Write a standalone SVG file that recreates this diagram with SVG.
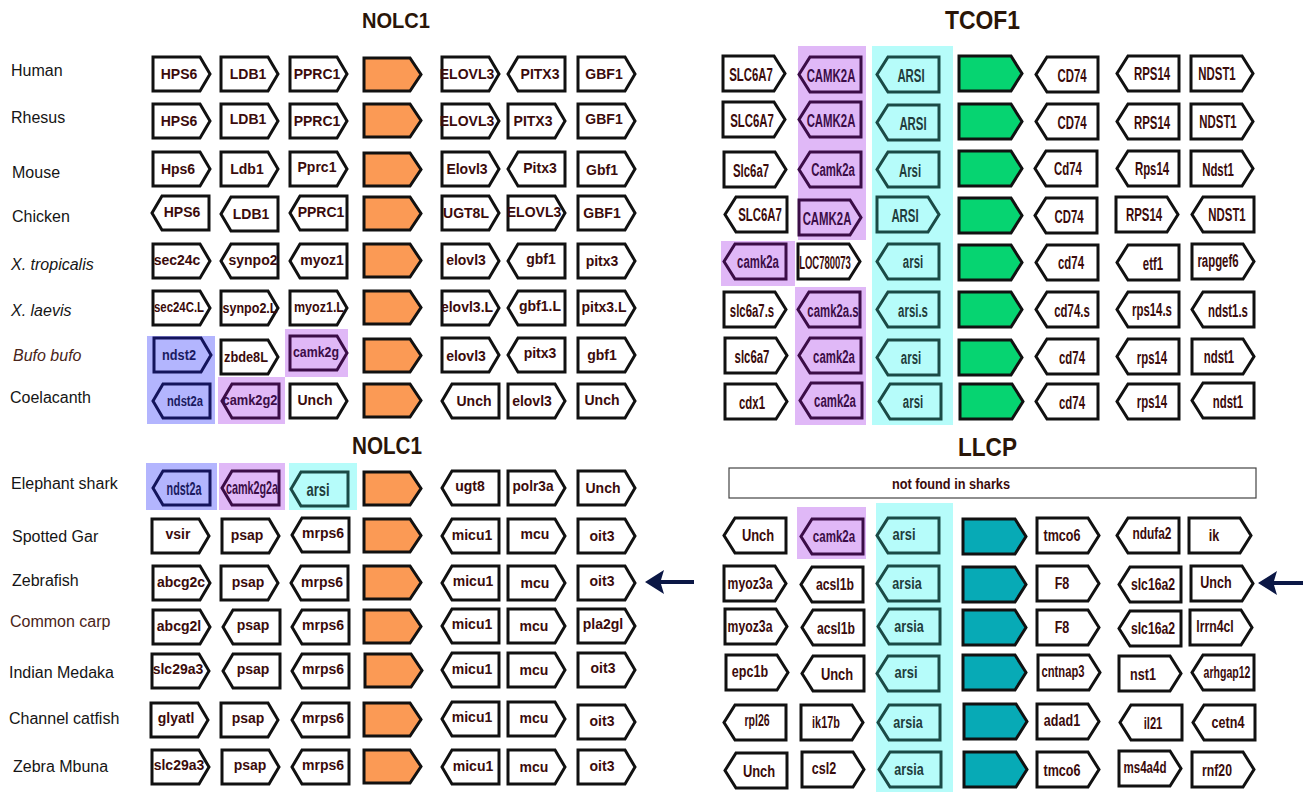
<svg xmlns="http://www.w3.org/2000/svg" xmlns:xlink="http://www.w3.org/1999/xlink" width="1308" height="792" viewBox="0 0 1308 792">
<defs>
<style>
.w{fill:#fff;stroke:#111;stroke-width:3}
.p{fill:none;stroke:#3b0d47;stroke-width:3}
.b{fill:none;stroke:#14145c;stroke-width:3}
.c{fill:none;stroke:#1b4a46;stroke-width:3}
.or{fill:#fb9a55;stroke:#111;stroke-width:3}
.gr{fill:#06d471;stroke:#111;stroke-width:3}
.te{fill:#07aab6;stroke:#111;stroke-width:3}
.t{font-family:"Liberation Sans",Arial,sans-serif;font-weight:bold;font-size:14px;fill:#3b0b0b;text-anchor:middle}
.tn{font-size:19px}
.tb{font-size:17px}
.ts{font-size:18px}
.tp{fill:#3b0d47}
.tc{fill:#213c3c}
.tbl{fill:#1a1a60}
.sp{font-family:"Liberation Sans",Arial,sans-serif;font-size:16px;fill:#151515}
.it{font-style:italic}
.br{fill:#4a2418}
.ti{font-family:"Liberation Sans",Arial,sans-serif;font-weight:bold;fill:#2a1608}
.bgp{fill:#e0b8f7}
.bgb{fill:#b3b5fe}
.bgc{fill:#b6fcfa}
</style>
<path id="r" d="M0,0H47L57,17L47,34H0Z"/>
<path id="l" d="M10,0H57V34H10L0,17Z"/>
<path id="o" d="M0,0H46L57,16.5L46,33H0Z"/>
<path id="R" d="M0,0H51L62,17.5L51,35H0Z"/>
<path id="L" d="M11,0H62V35H11L0,17.5Z"/>
<path id="G" d="M0,0H52L63,17.5L52,35H0Z"/>
</defs>
<rect width="1308" height="792" fill="#fff"/>

<!-- section titles -->
<g id="titles">
<text class="ti" x="362" y="28" font-size="22" textLength="68" lengthAdjust="spacingAndGlyphs">NOLC1</text>
<text class="ti" x="945" y="29" font-size="26" textLength="75" lengthAdjust="spacingAndGlyphs">TCOF1</text>
<text class="ti" x="352" y="454" font-size="24" textLength="70" lengthAdjust="spacingAndGlyphs">NOLC1</text>
<text class="ti" x="958" y="456" font-size="26" textLength="59" lengthAdjust="spacingAndGlyphs">LLCP</text>
</g>

<!-- species names -->
<g id="species">
<text class="sp" x="11" y="76">Human</text>
<text class="sp" x="11" y="123">Rhesus</text>
<text class="sp" x="12" y="178">Mouse</text>
<text class="sp" x="12" y="222">Chicken</text>
<text class="sp it" x="11" y="270">X. tropicalis</text>
<text class="sp it" x="11" y="316">X. laevis</text>
<text class="sp it br" x="13" y="361">Bufo bufo</text>
<text class="sp" x="10" y="403">Coelacanth</text>
<text class="sp" x="11" y="489">Elephant shark</text>
<text class="sp" x="12" y="542">Spotted Gar</text>
<text class="sp" x="12" y="586">Zebrafish</text>
<text class="sp br" x="10" y="627">Common carp</text>
<text class="sp" x="9" y="678">Indian Medaka</text>
<text class="sp" x="9" y="724">Channel catfish</text>
<text class="sp" x="13" y="772">Zebra Mbuna</text>
</g>

<!-- shared-gene highlight bands -->
<g id="highlights">
<rect class="bgb" x="147" y="336" width="68" height="88"/>
<rect class="bgp" x="285" y="329" width="63" height="48"/>
<rect class="bgp" x="218" y="377" width="67" height="47"/>
<rect class="bgp" x="798" y="46" width="68" height="194"/>
<rect class="bgp" x="721" y="241" width="74" height="45"/>
<rect class="bgp" x="795" y="287" width="71" height="138"/>
<rect class="bgc" x="872" y="46" width="81" height="379"/>
<rect class="bgb" x="146" y="463" width="71" height="47"/>
<rect class="bgp" x="219" y="463" width="66" height="47"/>
<rect class="bgc" x="289" y="463" width="68" height="47"/>
<rect class="bgp" x="797" y="507" width="69" height="52"/>
<rect class="bgc" x="876" y="503" width="77" height="289"/>
</g>

<!-- NOLC1 locus, tetrapods and coelacanth -->
<g id="nolc1-top">
<g id="h-hps6" transform="translate(153,57)"><use href="#r" class="w"/><text class="t" x="26" y="22">HPS6</text></g>
<g id="h-ldb1" transform="translate(221,57)"><use href="#r" class="w"/><text class="t" x="27" y="22">LDB1</text></g>
<g id="h-pprc1" transform="translate(290,57)"><use href="#r" class="w"/><text class="t" x="27" y="22">PPRC1</text></g>
<g id="h-nolc1" transform="translate(364,58)"><use href="#o" class="or"/></g>
<g id="h-elovl3" transform="translate(442,57)"><use href="#r" class="w"/><text class="t" x="25" y="22">ELOVL3</text></g>
<g id="h-pitx3" transform="translate(508,57)"><use href="#l" class="w"/><text class="t" x="32" y="22">PITX3</text></g>
<g id="h-gbf1" transform="translate(578,57)"><use href="#r" class="w"/><text class="t" x="26" y="22">GBF1</text></g>

<g id="rh-hps6" transform="translate(153,104)"><use href="#r" class="w"/><text class="t" x="26" y="22">HPS6</text></g>
<g id="rh-ldb1" transform="translate(221,104)"><use href="#r" class="w"/><text class="t" x="27" y="20">LDB1</text></g>
<g id="rh-pprc1" transform="translate(290,104)"><use href="#r" class="w"/><text class="t" x="27" y="22">PPRC1</text></g>
<g id="rh-nolc1" transform="translate(364,104)"><use href="#o" class="or"/></g>
<g id="rh-elovl3" transform="translate(442,104)"><use href="#r" class="w"/><text class="t" x="25" y="22">ELOVL3</text></g>
<g id="rh-pitx3" transform="translate(508,104)"><use href="#r" class="w"/><text class="t" x="25" y="22">PITX3</text></g>
<g id="rh-gbf1" transform="translate(578,104)"><use href="#r" class="w"/><text class="t" x="26" y="20">GBF1</text></g>

<g id="m-hps6" transform="translate(153,152)"><use href="#r" class="w"/><text class="t" x="25" y="22">Hps6</text></g>
<g id="m-ldb1" transform="translate(221,152)"><use href="#r" class="w"/><text class="t" x="26" y="22">Ldb1</text></g>
<g id="m-pprc1" transform="translate(290,152)"><use href="#r" class="w"/><text class="t" x="27" y="20">Pprc1</text></g>
<g id="m-nolc1" transform="translate(364,153)"><use href="#o" class="or"/></g>
<g id="m-elovl3" transform="translate(442,152)"><use href="#r" class="w"/><text class="t" x="25" y="22">Elovl3</text></g>
<g id="m-pitx3" transform="translate(508,152)"><use href="#l" class="w"/><text class="t" x="32" y="21">Pitx3</text></g>
<g id="m-gbf1" transform="translate(578,152)"><use href="#r" class="w"/><text class="t" x="24" y="23">Gbf1</text></g>

<g id="c-hps6" transform="translate(152,196)"><use href="#l" class="w"/><text class="t" x="30" y="21">HPS6</text></g>
<g id="c-ldb1" transform="translate(221,197)"><use href="#l" class="w"/><text class="t" x="30" y="22">LDB1</text></g>
<g id="c-pprc1" transform="translate(290,196)"><use href="#l" class="w"/><text class="t" x="31" y="21">PPRC1</text></g>
<g id="c-nolc1" transform="translate(364,197)"><use href="#o" class="or"/></g>
<g id="c-ugt8l" transform="translate(442,196)"><use href="#r" class="w"/><text class="t" x="24" y="22">UGT8L</text></g>
<g id="c-elovl3" transform="translate(508,196)"><use href="#r" class="w"/><text class="t" x="26" y="21">ELOVL3</text></g>
<g id="c-gbf1" transform="translate(578,196)"><use href="#r" class="w"/><text class="t" x="24" y="22">GBF1</text></g>

<g id="xt-sec24c" transform="translate(153,244)"><use href="#r" class="w"/><text class="t" x="24" y="21">sec24c</text></g>
<g id="xt-synpo2" transform="translate(221,244)"><use href="#l" class="w"/><text class="t" x="32" y="21">synpo2</text></g>
<g id="xt-myoz1" transform="translate(290,244)"><use href="#l" class="w"/><text class="t" x="32" y="21">myoz1</text></g>
<g id="xt-nolc1" transform="translate(364,244)"><use href="#o" class="or"/></g>
<g id="xt-elovl3" transform="translate(442,244)"><use href="#r" class="w"/><text class="t" x="24" y="21">elovl3</text></g>
<g id="xt-gbf1" transform="translate(508,244)"><use href="#l" class="w"/><text class="t" x="33" y="20">gbf1</text></g>
<g id="xt-pitx3" transform="translate(578,244)"><use href="#r" class="w"/><text class="t" x="24" y="22">pitx3</text></g>

<g id="xl-sec24cl" transform="translate(153,291)"><use href="#r" class="w"/><text class="t" x="26" y="21" textLength="50" lengthAdjust="spacingAndGlyphs">sec24C.L</text></g>
<g id="xl-synpo2l" transform="translate(221,291)"><use href="#r" class="w"/><text class="t" x="29" y="22" textLength="55" lengthAdjust="spacingAndGlyphs">synpo2.L</text></g>
<g id="xl-myoz1l" transform="translate(290,291)"><use href="#r" class="w"/><text class="t" x="29" y="21" textLength="50" lengthAdjust="spacingAndGlyphs">myoz1.L</text></g>
<g id="xl-nolc1" transform="translate(364,291)"><use href="#o" class="or"/></g>
<g id="xl-elovl3l" transform="translate(442,291)"><use href="#r" class="w"/><text class="t" x="25" y="21">elovl3.L</text></g>
<g id="xl-gbf1l" transform="translate(508,291)"><use href="#l" class="w"/><text class="t" x="32" y="20">gbf1.L</text></g>
<g id="xl-pitx3l" transform="translate(578,291)"><use href="#r" class="w"/><text class="t" x="26" y="21">pitx3.L</text></g>

<g id="bb-ndst2" transform="translate(154,338)"><use href="#r" class="b"/><text class="t tbl" x="25" y="22" textLength="34" lengthAdjust="spacingAndGlyphs">ndst2</text></g>
<g id="bb-zbde8l" transform="translate(221,340)"><use href="#r" class="w"/><text class="t" x="25" y="22" textLength="44" lengthAdjust="spacingAndGlyphs">zbde8L</text></g>
<g id="bb-camk2g" transform="translate(290,336)"><use href="#r" class="p"/><text class="t tp" x="26" y="21" textLength="46" lengthAdjust="spacingAndGlyphs">camk2g</text></g>
<g id="bb-nolc1" transform="translate(364,339)"><use href="#o" class="or"/></g>
<g id="bb-elovl3" transform="translate(442,338)"><use href="#r" class="w"/><text class="t" x="24" y="23">elovl3</text></g>
<g id="bb-pitx3" transform="translate(508,338)"><use href="#l" class="w"/><text class="t" x="32" y="20">pitx3</text></g>
<g id="bb-gbf1" transform="translate(578,338)"><use href="#r" class="w"/><text class="t" x="24" y="22">gbf1</text></g>

<g id="co-ndst2a" transform="translate(153,384)"><use href="#l" class="b"/><text class="t tbl" x="32" y="22" textLength="36" lengthAdjust="spacingAndGlyphs">ndst2a</text></g>
<g id="co-camk2g2" transform="translate(222,384)"><use href="#l" class="p"/><text class="t tp" x="28" y="21" textLength="55" lengthAdjust="spacingAndGlyphs">camk2g2</text></g>
<g id="co-unch1" transform="translate(290,384)"><use href="#r" class="w"/><text class="t" x="25" y="21">Unch</text></g>
<g id="co-nolc1" transform="translate(364,384)"><use href="#o" class="or"/></g>
<g id="co-unch2" transform="translate(442,384)"><use href="#l" class="w"/><text class="t" x="32" y="22">Unch</text></g>
<g id="co-elovl3" transform="translate(508,384)"><use href="#r" class="w"/><text class="t" x="24" y="22">elovl3</text></g>
<g id="co-unch3" transform="translate(578,384)"><use href="#r" class="w"/><text class="t" x="24" y="21">Unch</text></g>
</g>

<!-- TCOF1 locus -->
<g id="tcof1">
<g id="th-slc6a7" transform="translate(723,56)"><use href="#R" class="w"/><text class="t tn" transform="translate(28 24.5) scale(.6 1)">SLC6A7</text></g>
<g id="th-camk2a" transform="translate(799,57)"><use href="#L" class="p"/><text class="t tn tp" transform="translate(32 24.5) scale(.6 1)">CAMK2A</text></g>
<g id="th-arsi" transform="translate(877,57)"><use href="#L" class="c"/><text class="t tn tc" transform="translate(34 24.5) scale(.6 1)">ARSI</text></g>
<g id="th-tcof1" transform="translate(959,56)"><use href="#G" class="gr"/></g>
<g id="th-cd74" transform="translate(1036,57)"><use href="#L" class="w"/><text class="t tn" transform="translate(36 24.5) scale(.6 1)">CD74</text></g>
<g id="th-rps14" transform="translate(1117,56)"><use href="#L" class="w"/><text class="t tn" transform="translate(35 23.5) scale(.6 1)">RPS14</text></g>
<g id="th-ndst1" transform="translate(1191,56)"><use href="#R" class="w"/><text class="t tn" transform="translate(26 23.5) scale(.6 1)">NDST1</text></g>

<g id="tr-slc6a7" transform="translate(723,102)"><use href="#R" class="w"/><text class="t tn" transform="translate(29 25) scale(.6 1)">SLC6A7</text></g>
<g id="tr-camk2a" transform="translate(799,102)"><use href="#L" class="p"/><text class="t tn tp" transform="translate(32 25) scale(.6 1)">CAMK2A</text></g>
<g id="tr-arsi" transform="translate(877,105)"><use href="#L" class="c"/><text class="t tn tc" transform="translate(36 25) scale(.6 1)">ARSI</text></g>
<g id="tr-tcof1" transform="translate(959,104)"><use href="#G" class="gr"/></g>
<g id="tr-cd74" transform="translate(1036,104)"><use href="#L" class="w"/><text class="t tn" transform="translate(36 24.5) scale(.6 1)">CD74</text></g>
<g id="tr-rps14" transform="translate(1117,104)"><use href="#L" class="w"/><text class="t tn" transform="translate(35 24.5) scale(.6 1)">RPS14</text></g>
<g id="tr-ndst1" transform="translate(1191,104)"><use href="#R" class="w"/><text class="t tn" transform="translate(27 23.5) scale(.6 1)">NDST1</text></g>

<g id="tm-slc6a7" transform="translate(724,152)"><use href="#R" class="w"/><text class="t tn" transform="translate(27 25) scale(.6 1)">Slc6a7</text></g>
<g id="tm-camk2a" transform="translate(799,152)"><use href="#L" class="p"/><text class="t tn tp" transform="translate(34 24) scale(.6 1)">Camk2a</text></g>
<g id="tm-arsi" transform="translate(877,152)"><use href="#L" class="c"/><text class="t tn tc" transform="translate(33 25) scale(.6 1)">Arsi</text></g>
<g id="tm-tcof1" transform="translate(959,151)"><use href="#G" class="gr"/></g>
<g id="tm-cd74" transform="translate(1035,151)"><use href="#L" class="w"/><text class="t tn" transform="translate(33 23.5) scale(.6 1)">Cd74</text></g>
<g id="tm-rps14" transform="translate(1117,151)"><use href="#L" class="w"/><text class="t tn" transform="translate(35 24) scale(.6 1)">Rps14</text></g>
<g id="tm-ndst1" transform="translate(1191,151)"><use href="#R" class="w"/><text class="t tn" transform="translate(27 24.5) scale(.6 1)">Ndst1</text></g>

<g id="tc-slc6a7" transform="translate(725,197)"><use href="#L" class="w"/><text class="t tn" transform="translate(35 24) scale(.6 1)">SLC6A7</text></g>
<g id="tc-camk2a" transform="translate(799,200)"><use href="#R" class="p"/><text class="t tn tp" transform="translate(28 24.5) scale(.6 1)">CAMK2A</text></g>
<g id="tc-arsi" transform="translate(877,197)"><use href="#R" class="c"/><text class="t tn tc" transform="translate(28 24.5) scale(.6 1)">ARSI</text></g>
<g id="tc-tcof1" transform="translate(959,198)"><use href="#G" class="gr"/></g>
<g id="tc-cd74" transform="translate(1035,198)"><use href="#L" class="w"/><text class="t tn" transform="translate(34 24.5) scale(.6 1)">CD74</text></g>
<g id="tc-rps14" transform="translate(1116,197)"><use href="#R" class="w"/><text class="t tn" transform="translate(28 23.5) scale(.6 1)">RPS14</text></g>
<g id="tc-ndst1" transform="translate(1192,197)"><use href="#L" class="w"/><text class="t tn" transform="translate(35 24) scale(.6 1)">NDST1</text></g>

<g id="txt-camk2a" transform="translate(724,244)"><use href="#L" class="p"/><text class="t tn tp" transform="translate(34 23.5) scale(.6 1)">camk2a</text></g>
<g id="txt-loc780073" transform="translate(798,244)"><use href="#R" class="w"/><text class="t tn" transform="translate(27 24.5) scale(.5 1)">LOC780073</text></g>
<g id="txt-arsi" transform="translate(877,244)"><use href="#L" class="c"/><text class="t tn tc" transform="translate(36 24) scale(.6 1)">arsi</text></g>
<g id="txt-tcof1" transform="translate(959,245)"><use href="#G" class="gr"/></g>
<g id="txt-cd74" transform="translate(1036,245)"><use href="#L" class="w"/><text class="t tn" transform="translate(35 23.5) scale(.6 1)">cd74</text></g>
<g id="txt-etf1" transform="translate(1117,245)"><use href="#L" class="w"/><text class="t tn" transform="translate(36 24.5) scale(.6 1)">etf1</text></g>
<g id="txt-rapgef6" transform="translate(1192,244)"><use href="#R" class="w"/><text class="t tn" transform="translate(26 23) scale(.6 1)">rapgef6</text></g>

<g id="txl-slc6a7s" transform="translate(724,292)"><use href="#R" class="w"/><text class="t tn" transform="translate(28 24.5) scale(.6 1)">slc6a7.s</text></g>
<g id="txl-camk2as" transform="translate(798,292)"><use href="#L" class="p"/><text class="t tn tp" transform="translate(35 24.5) scale(.6 1)">camk2a.s</text></g>
<g id="txl-arsis" transform="translate(877,292)"><use href="#L" class="c"/><text class="t tn tc" transform="translate(36 24.5) scale(.6 1)">arsi.s</text></g>
<g id="txl-tcof1" transform="translate(959,292)"><use href="#G" class="gr"/></g>
<g id="txl-cd74s" transform="translate(1036,292)"><use href="#L" class="w"/><text class="t tn" transform="translate(36 24.5) scale(.6 1)">cd74.s</text></g>
<g id="txl-rps14s" transform="translate(1117,292)"><use href="#L" class="w"/><text class="t tn" transform="translate(35 23.5) scale(.6 1)">rps14.s</text></g>
<g id="txl-ndst1s" transform="translate(1192,292)"><use href="#L" class="w"/><text class="t tn" transform="translate(36 24.5) scale(.6 1)">ndst1.s</text></g>

<g id="tbb-slc6a7" transform="translate(725,338)"><use href="#R" class="w"/><text class="t tn" transform="translate(27 24.5) scale(.6 1)">slc6a7</text></g>
<g id="tbb-camk2a" transform="translate(799,338)"><use href="#L" class="p"/><text class="t tn tp" transform="translate(35 24.5) scale(.6 1)">camk2a</text></g>
<g id="tbb-arsi" transform="translate(877,340)"><use href="#L" class="c"/><text class="t tn tc" transform="translate(34 24) scale(.6 1)">arsi</text></g>
<g id="tbb-tcof1" transform="translate(959,340)"><use href="#G" class="gr"/></g>
<g id="tbb-cd74" transform="translate(1036,339)"><use href="#L" class="w"/><text class="t tn" transform="translate(36 24.5) scale(.6 1)">cd74</text></g>
<g id="tbb-rps14" transform="translate(1117,339)"><use href="#L" class="w"/><text class="t tn" transform="translate(35 25) scale(.6 1)">rps14</text></g>
<g id="tbb-ndst1" transform="translate(1192,339)"><use href="#R" class="w"/><text class="t tn" transform="translate(27 23.5) scale(.6 1)">ndst1</text></g>

<g id="tco-cdx1" transform="translate(725,384)"><use href="#R" class="w"/><text class="t tn" transform="translate(27 24.5) scale(.6 1)">cdx1</text></g>
<g id="tco-camk2a" transform="translate(800,383)"><use href="#L" class="p"/><text class="t tn tp" transform="translate(35 23.5) scale(.6 1)">camk2a</text></g>
<g id="tco-arsi" transform="translate(879,384)"><use href="#L" class="c"/><text class="t tn tc" transform="translate(34 24) scale(.6 1)">arsi</text></g>
<g id="tco-tcof1" transform="translate(960,384)"><use href="#G" class="gr"/></g>
<g id="tco-cd74" transform="translate(1036,384)"><use href="#L" class="w"/><text class="t tn" transform="translate(36 24.5) scale(.6 1)">cd74</text></g>
<g id="tco-rps14" transform="translate(1117,384)"><use href="#L" class="w"/><text class="t tn" transform="translate(35 24) scale(.6 1)">rps14</text></g>
<g id="tco-ndst1" transform="translate(1192,383)"><use href="#L" class="w"/><text class="t tn" transform="translate(36 24.5) scale(.6 1)">ndst1</text></g>
</g>

<!-- NOLC1 locus, fishes -->
<g id="nolc1-fish">
<g id="es-ndst2a" transform="translate(153,471)"><use href="#l" class="b"/><text class="t ts tbl" transform="translate(31 23.5) scale(.6 1)">ndst2a</text></g>
<g id="es-camk2g2a" transform="translate(222,471)"><use href="#l" class="p"/><text class="t ts tp" transform="translate(30 23) scale(.6 1)">camk2g2a</text></g>
<g id="es-arsi" transform="translate(291,472)"><use href="#l" class="c"/><text class="t ts tc" transform="translate(27 23.5) scale(.72 1)">arsi</text></g>
<g id="es-nolc1" transform="translate(364,472)"><use href="#o" class="or"/></g>
<g id="es-ugt8" transform="translate(442,471)"><use href="#l" class="w"/><text class="t" x="28" y="20">ugt8</text></g>
<g id="es-polr3a" transform="translate(508,471)"><use href="#r" class="w"/><text class="t" x="25" y="20" textLength="41" lengthAdjust="spacingAndGlyphs">polr3a</text></g>
<g id="es-unch" transform="translate(578,471)"><use href="#r" class="w"/><text class="t" x="25" y="22">Unch</text></g>

<g id="sg-vsir" transform="translate(152,519)"><use href="#r" class="w"/><text class="t" x="26" y="20">vsir</text></g>
<g id="sg-psap" transform="translate(222,519)"><use href="#r" class="w"/><text class="t" x="25" y="21">psap</text></g>
<g id="sg-mrps6" transform="translate(292,518)"><use href="#l" class="w"/><text class="t" x="31" y="20">mrps6</text></g>
<g id="sg-nolc1" transform="translate(364,519)"><use href="#o" class="or"/></g>
<g id="sg-micu1" transform="translate(442,519)"><use href="#l" class="w"/><text class="t" x="30" y="21">micu1</text></g>
<g id="sg-mcu" transform="translate(508,519)"><use href="#r" class="w"/><text class="t" x="27" y="20">mcu</text></g>
<g id="sg-oit3" transform="translate(578,519)"><use href="#r" class="w"/><text class="t" x="24" y="22">oit3</text></g>

<g id="zf-abcg2c" transform="translate(153,566)"><use href="#r" class="w"/><text class="t" x="28" y="21">abcg2c</text></g>
<g id="zf-psap" transform="translate(221,566)"><use href="#r" class="w"/><text class="t" x="27" y="21">psap</text></g>
<g id="zf-mrps6" transform="translate(291,566)"><use href="#l" class="w"/><text class="t" x="31" y="21">mrps6</text></g>
<g id="zf-nolc1" transform="translate(364,566)"><use href="#o" class="or"/></g>
<g id="zf-micu1" transform="translate(442,566)"><use href="#l" class="w"/><text class="t" x="31" y="20">micu1</text></g>
<g id="zf-mcu" transform="translate(508,566)"><use href="#r" class="w"/><text class="t" x="27" y="22">mcu</text></g>
<g id="zf-oit3" transform="translate(578,566)"><use href="#r" class="w"/><text class="t" x="24" y="20">oit3</text></g>

<g id="cc-abcg2l" transform="translate(153,610)"><use href="#r" class="w"/><text class="t" x="26" y="21">abcg2l</text></g>
<g id="cc-psap" transform="translate(223,610)"><use href="#l" class="w"/><text class="t" x="30" y="20">psap</text></g>
<g id="cc-mrps6" transform="translate(292,610)"><use href="#l" class="w"/><text class="t" x="31" y="20">mrps6</text></g>
<g id="cc-nolc1" transform="translate(364,610)"><use href="#o" class="or"/></g>
<g id="cc-micu1" transform="translate(442,609)"><use href="#l" class="w"/><text class="t" x="30" y="20">micu1</text></g>
<g id="cc-mcu" transform="translate(508,609)"><use href="#r" class="w"/><text class="t" x="26" y="22">mcu</text></g>
<g id="cc-pla2gl" transform="translate(578,609)"><use href="#r" class="w"/><text class="t" x="25" y="20">pla2gl</text></g>

<g id="im-slc29a3" transform="translate(152,654)"><use href="#r" class="w"/><text class="t" x="26" y="20">slc29a3</text></g>
<g id="im-psap" transform="translate(223,654)"><use href="#l" class="w"/><text class="t" x="30" y="20">psap</text></g>
<g id="im-mrps6" transform="translate(292,654)"><use href="#l" class="w"/><text class="t" x="31" y="20">mrps6</text></g>
<g id="im-nolc1" transform="translate(365,654)"><use href="#o" class="or"/></g>
<g id="im-micu1" transform="translate(442,653)"><use href="#l" class="w"/><text class="t" x="30" y="21">micu1</text></g>
<g id="im-mcu" transform="translate(508,653)"><use href="#r" class="w"/><text class="t" x="26" y="22">mcu</text></g>
<g id="im-oit3" transform="translate(578,653)"><use href="#r" class="w"/><text class="t" x="25" y="20">oit3</text></g>

<g id="ch-glyatl" transform="translate(151,703)"><use href="#r" class="w"/><text class="t" x="25" y="20">glyatl</text></g>
<g id="ch-psap" transform="translate(221,703)"><use href="#r" class="w"/><text class="t" x="27" y="20">psap</text></g>
<g id="ch-mrps6" transform="translate(292,703)"><use href="#l" class="w"/><text class="t" x="31" y="20">mrps6</text></g>
<g id="ch-nolc1" transform="translate(364,703)"><use href="#o" class="or"/></g>
<g id="ch-micu1" transform="translate(442,702)"><use href="#l" class="w"/><text class="t" x="30" y="20">micu1</text></g>
<g id="ch-mcu" transform="translate(508,702)"><use href="#r" class="w"/><text class="t" x="26" y="21">mcu</text></g>
<g id="ch-oit3" transform="translate(578,705)"><use href="#r" class="w"/><text class="t" x="24" y="21">oit3</text></g>

<g id="zm-slc29a3" transform="translate(152,750)"><use href="#r" class="w"/><text class="t" x="27" y="20">slc29a3</text></g>
<g id="zm-psap" transform="translate(222,750)"><use href="#r" class="w"/><text class="t" x="28" y="20">psap</text></g>
<g id="zm-mrps6" transform="translate(292,750)"><use href="#l" class="w"/><text class="t" x="31" y="20">mrps6</text></g>
<g id="zm-nolc1" transform="translate(364,750)"><use href="#o" class="or"/></g>
<g id="zm-micu1" transform="translate(442,750)"><use href="#l" class="w"/><text class="t" x="31" y="21">micu1</text></g>
<g id="zm-mcu" transform="translate(508,750)"><use href="#r" class="w"/><text class="t" x="26" y="22">mcu</text></g>
<g id="zm-oit3" transform="translate(578,750)"><use href="#r" class="w"/><text class="t" x="24" y="21">oit3</text></g>
</g>

<!-- LLCP locus -->
<g id="llcp">
<g id="llcp-note"><rect x="729" y="468" width="527" height="30" fill="#fff" stroke="#444" stroke-width="1.2"/><text class="t" x="951" y="489" style="font-size:14px" textLength="118" lengthAdjust="spacingAndGlyphs">not found in sharks</text></g>

<g id="l1-unch" transform="translate(724,518)"><use href="#L" class="w"/><text class="t tb" transform="translate(34 23) scale(.76 1)">Unch</text></g>
<g id="l1-camk2a" transform="translate(801,519)"><use href="#L" class="p"/><text class="t tb tp" transform="translate(33 22.5) scale(.68 1)">camk2a</text></g>
<g id="l1-arsi" transform="translate(877,518)"><use href="#L" class="c"/><text class="t tb tc" transform="translate(27 22) scale(.76 1)">arsi</text></g>
<g id="l1-llcp" transform="translate(963,519)"><use href="#G" class="te"/></g>
<g id="l1-tmco6" transform="translate(1037,518)"><use href="#R" class="w"/><text class="t tb" transform="translate(25 23) scale(.74 1)">tmco6</text></g>
<g id="l1-ndufa2" transform="translate(1117,518)"><use href="#L" class="w"/><text class="t tb" transform="translate(35 21) scale(.7 1)">ndufa2</text></g>
<g id="l1-ik" transform="translate(1189,518)"><use href="#R" class="w"/><text class="t tb" transform="translate(25 23) scale(.74 1)">ik</text></g>

<g id="l2-myoz3a" transform="translate(724,566)"><use href="#R" class="w"/><text class="t tb" transform="translate(26 23) scale(.72 1)">myoz3a</text></g>
<g id="l2-acsl1b" transform="translate(801,567)"><use href="#L" class="w"/><text class="t tb" transform="translate(34 23) scale(.72 1)">acsl1b</text></g>
<g id="l2-arsia" transform="translate(877,566)"><use href="#L" class="c"/><text class="t tb tc" transform="translate(30 23) scale(.74 1)">arsia</text></g>
<g id="l2-llcp" transform="translate(963,567)"><use href="#G" class="te"/></g>
<g id="l2-f8" transform="translate(1037,566)"><use href="#R" class="w"/><text class="t tb" transform="translate(25 23) scale(.74 1)">F8</text></g>
<g id="l2-slc16a2" transform="translate(1119,567)"><use href="#L" class="w"/><text class="t tb" transform="translate(34 23) scale(.72 1)">slc16a2</text></g>
<g id="l2-unch" transform="translate(1191,566)"><use href="#R" class="w"/><text class="t tb" transform="translate(25 22) scale(.74 1)">Unch</text></g>

<g id="l3-myoz3a" transform="translate(725,609)"><use href="#R" class="w"/><text class="t tb" transform="translate(25 23) scale(.72 1)">myoz3a</text></g>
<g id="l3-acsl1b" transform="translate(802,610)"><use href="#L" class="w"/><text class="t tb" transform="translate(34 24) scale(.72 1)">acsl1b</text></g>
<g id="l3-arsia" transform="translate(878,609)"><use href="#L" class="c"/><text class="t tb tc" transform="translate(31 23) scale(.74 1)">arsia</text></g>
<g id="l3-llcp" transform="translate(963,610)"><use href="#G" class="te"/></g>
<g id="l3-f8" transform="translate(1037,610)"><use href="#R" class="w"/><text class="t tb" transform="translate(25 23) scale(.74 1)">F8</text></g>
<g id="l3-slc16a2" transform="translate(1119,611)"><use href="#L" class="w"/><text class="t tb" transform="translate(34 23) scale(.72 1)">slc16a2</text></g>
<g id="l3-lrrn4cl" transform="translate(1190,610)"><use href="#R" class="w"/><text class="t tb" transform="translate(25 22) scale(.72 1)">lrrn4cl</text></g>

<g id="l4-epc1b" transform="translate(726,655)"><use href="#R" class="w"/><text class="t tb" transform="translate(24 22) scale(.74 1)">epc1b</text></g>
<g id="l4-unch" transform="translate(802,656)"><use href="#L" class="w"/><text class="t tb" transform="translate(35 24) scale(.76 1)">Unch</text></g>
<g id="l4-arsi" transform="translate(877,656)"><use href="#L" class="c"/><text class="t tb tc" transform="translate(29 22) scale(.76 1)">arsi</text></g>
<g id="l4-llcp" transform="translate(963,655)"><use href="#G" class="te"/></g>
<g id="l4-cntnap3" transform="translate(1038,655)"><use href="#R" class="w"/><text class="t tb" transform="translate(25 22) scale(.66 1)">cntnap3</text></g>
<g id="l4-nst1" transform="translate(1119,656)"><use href="#R" class="w"/><text class="t tb" transform="translate(24 24) scale(.74 1)">nst1</text></g>
<g id="l4-arhgap12" transform="translate(1192,655)"><use href="#L" class="w"/><text class="t tb" transform="translate(35 23) scale(.62 1)">arhgap12</text></g>

<g id="l5-rpl26" transform="translate(724,705)"><use href="#L" class="w"/><text class="t tb" transform="translate(33 21) scale(.62 1)">rpl26</text></g>
<g id="l5-ik17b" transform="translate(801,705)"><use href="#R" class="w"/><text class="t tb" transform="translate(25 23) scale(.64 1)">ik17b</text></g>
<g id="l5-arsia" transform="translate(878,705)"><use href="#L" class="c"/><text class="t tb tc" transform="translate(30 23) scale(.74 1)">arsia</text></g>
<g id="l5-llcp" transform="translate(964,704)"><use href="#G" class="te"/></g>
<g id="l5-adad1" transform="translate(1037,704)"><use href="#R" class="w"/><text class="t tb" transform="translate(25 22) scale(.74 1)">adad1</text></g>
<g id="l5-il21" transform="translate(1120,705)"><use href="#L" class="w"/><text class="t tb" transform="translate(33 24) scale(.66 1)">il21</text></g>
<g id="l5-cetn4" transform="translate(1193,705)"><use href="#L" class="w"/><text class="t tb" transform="translate(35 23) scale(.74 1)">cetn4</text></g>

<g id="l6-unch" transform="translate(725,753)"><use href="#L" class="w"/><text class="t tb" transform="translate(34 24) scale(.76 1)">Unch</text></g>
<g id="l6-csl2" transform="translate(802,752)"><use href="#R" class="w"/><text class="t tb" transform="translate(22 22) scale(.74 1)">csl2</text></g>
<g id="l6-arsia" transform="translate(879,752)"><use href="#L" class="c"/><text class="t tb tc" transform="translate(30 23) scale(.74 1)">arsia</text></g>
<g id="l6-llcp" transform="translate(964,752)"><use href="#G" class="te"/></g>
<g id="l6-tmco6" transform="translate(1037,752)"><use href="#R" class="w"/><text class="t tb" transform="translate(25 24) scale(.74 1)">tmco6</text></g>
<g id="l6-ms4a4d" transform="translate(1119,751)"><use href="#R" class="w"/><text class="t tb" transform="translate(26 22) scale(.68 1)">ms4a4d</text></g>
<g id="l6-rnf20" transform="translate(1192,752)"><use href="#R" class="w"/><text class="t tb" transform="translate(25 24) scale(.72 1)">rnf20</text></g>
</g>

<!-- pointers to the zebrafish rows -->
<g id="connectors" fill="#0b1745">
<path d="M645,582L664,570L661,580H694V584H661L664,594Z"/>
<path d="M1258,583L1277,571L1274,581H1303V585H1274L1277,595Z"/>
</g>
</svg>
